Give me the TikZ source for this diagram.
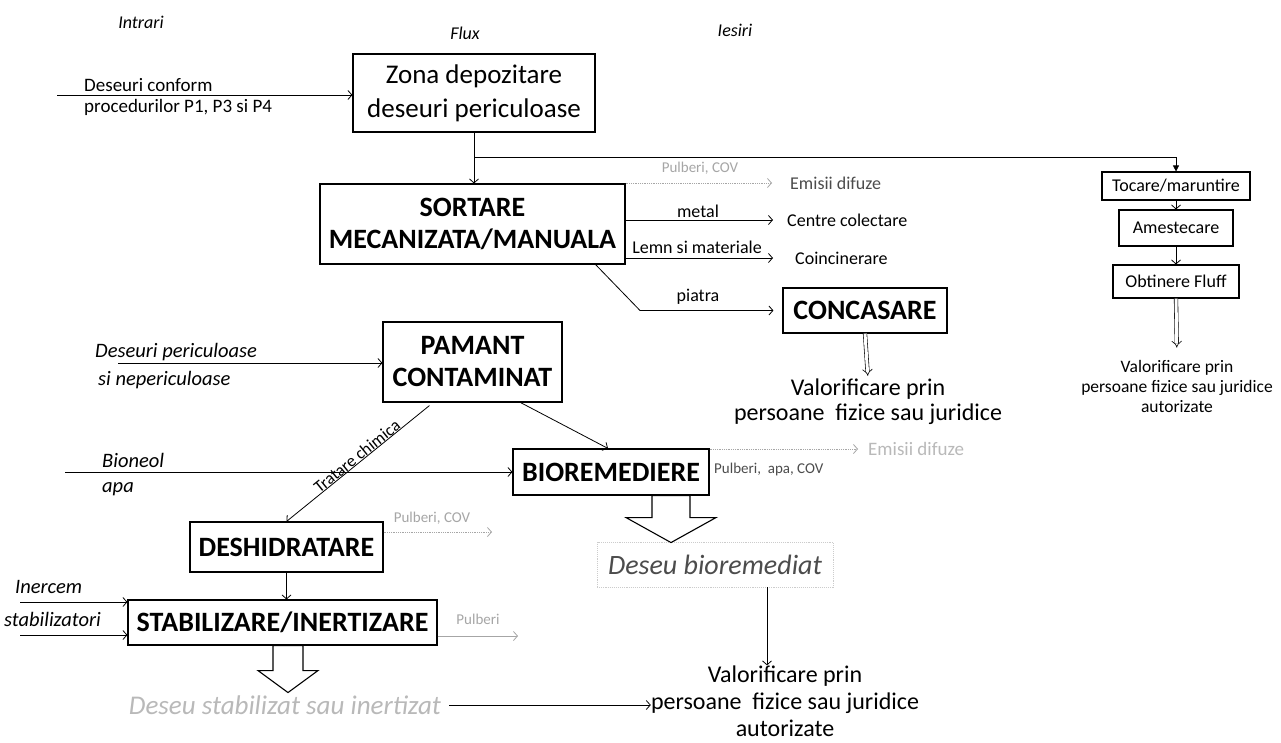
\documentclass[tikz,border=0pt]{standalone}
\usepackage{fontspec}
\setmainfont{Carlito}
\usetikzlibrary{arrows.meta,calc}
\newcommand\fsz[2]{\fontsize{#1}{#2}\selectfont}
\begin{document}
\begin{tikzpicture}[x=1pt,y=-1pt,
 box/.style={draw, line width=1.1pt, inner sep=0pt, align=center, fill=white},
 bbox/.style={box, font=\fsz{28}{32}\bfseries},
 arr/.style={line width=0.8pt, -{Straight Barb[length=4pt,width=9pt]}},
 dotarr/.style={arr, densely dotted, draw=gray!70},
 lbl/.style={inner sep=0pt, font=\fsz{18}{20}},
 lblg/.style={inner sep=0pt, text=gray!70, font=\fsz{15}{18}},
 itl/.style={inner sep=0pt, font=\fsz{20.5}{22}\itshape},
 hdr/.style={inner sep=0pt, font=\fsz{18}{20}\itshape},
 dbl/.style={double, double distance=3pt, line width=0.6pt, -{Implies}},
 hollow/.style={draw, line width=1.1pt, fill=white, line join=miter},
 val/.style={inner sep=0pt, align=center}
]
\fill[white] (0,0) rectangle (1281,742);
\useasboundingbox (0,0) rectangle (1281,742);

% headers
\node[hdr] (hin) at (141,22) {Intrari};
\node[hdr] (hfl) at (465,33) {Flux};
\node[hdr] (hie) at (735,30) {Iesiri};

% boxes
\node[box, minimum width=242pt, minimum height=78pt, font=\fsz{27}{34}] (zona) at (474,93) {Zona depozitare\\deseuri periculoase};
\node[bbox, minimum width=305pt, minimum height=80pt] (sort) at (472.5,224) {SORTARE\\MECANIZATA/MANUALA};
\node[bbox, minimum width=164pt, minimum height=45pt] (conc) at (865,310.5) {CONCASARE};
\node[box, minimum width=148pt, minimum height=28pt, font=\fsz{18}{20}] (toc) at (1176,186) {Tocare/maruntire};
\node[box, minimum width=114pt, minimum height=36pt, font=\fsz{18}{20}] (ame) at (1176,228) {Amestecare};
\node[box, minimum width=126pt, minimum height=33pt, font=\fsz{18}{20}] (obt) at (1176,281.5) {Obtinere Fluff};
\node[bbox, minimum width=179pt, minimum height=80pt] (pam) at (472.5,362) {PAMANT\\CONTAMINAT};
\node[bbox, minimum width=196pt, minimum height=46pt] (bio) at (611,472) {BIOREMEDIERE};
\node[bbox, minimum width=193pt, minimum height=50pt] (desh) at (286.5,547) {DESHIDRATARE};
\node[bbox, minimum width=309pt, minimum height=45pt] (stab) at (282.5,622.5) {STABILIZARE/INERTIZARE};
\node[box, draw=gray!40, densely dotted, line width=0.8pt, minimum width=236pt, minimum height=45pt, font=\fsz{28}{30}\itshape, text=gray!60!black] (db) at (715,564.5) {Deseu bioremediat};

% input 1
\node[lbl, anchor=west, font=\fsz{19}{20}] (l1a) at (84,85) {Deseuri conform};
\node[lbl, anchor=west, font=\fsz{19}{20}] (l1b) at (84,107) {procedurilor P1, P3 si P4};
\coordinate (in1) at (57,95);
\draw[arr] (in1) -- (in1 -| zona.west);

% main flow
\draw[arr] (zona.south) -- (zona.south |- sort.north);
\coordinate (br) at (474,157);
\draw[line width=0.8pt, -{Triangle[length=6pt,width=6pt]}] (br) -| (toc.north);

% sortare outputs
\node[lbl, anchor=west, text=gray!60!black] (em1) at (790,183) {Emisii difuze};
\node[lblg] (pc1) at (700,168) {Pulberi, COV};
\draw[dotarr] (sort.east |- em1.west) -- ([xshift=-18pt]em1.west);
\node[lbl, anchor=west] (cc) at (787,220) {Centre colectare};
\node[lbl] (lm) at (698,211) {metal};
\draw[arr] (sort.east |- cc.west) -- ([xshift=-14pt]cc.west);
\node[lbl, anchor=west] (coin) at (795,258) {Coincinerare};
\node[lbl] (lsm) at (697,247) {Lemn si materiale};
\draw[arr] (sort.east |- coin.west) -- ([xshift=-22pt]coin.west);
\node[lbl] (lp) at (698,297) {piatra};
\coordinate (pk) at (640,310.5);
\draw[arr, shorten >=9pt] ([xshift=-30pt]sort.south east) -- (pk) -- (conc.west);

\node[val, font=\fsz{24}{25}] (v1) at (868,402) {Valorificare prin\\persoane\ \ fizice sau juridice};
\draw[dbl, shorten >=3pt] (conc.south) -- (v1.north);

% right column
\draw[arr] (toc.south) -- (ame.north);
\draw[arr] (ame.south) -- (obt.north);
\node[val, font=\fsz{17.5}{20}] (v2) at (1177,386) {Valorificare prin\\persoane fizice sau juridice\\autorizate};
\draw[dbl, shorten >=12pt] (obt.south) -- (v2.north);

% pamant contaminat
\node[itl, anchor=west] (l2a) at (95,352) {Deseuri periculoase};
\node[itl, anchor=west] (l2b) at (98,380) {si nepericuloase};
\coordinate (in2) at (118,363);
\draw[arr] (in2) -- (in2 -| pam.west);
\draw[arr] ([xshift=47pt, yshift=-3pt]pam.south west) -- node[sloped, pos=0.48, above=-1pt, font=\fsz{17}{18}, inner sep=1pt] {Tratare chimica} (desh.north);
\draw[arr] ([xshift=-42pt]pam.south east) -- ([xshift=-3pt]bio.north);

% bioremediere
\node[itl, anchor=west] (l3a) at (102,460) {Bioneol};
\node[itl, anchor=west] (l3b) at (102,489) {apa};
\coordinate (in3) at (65,472);
\draw[arr] (in3) -- (in3 -| bio.west);
\node[lbl, anchor=west, text=gray!55, font=\fsz{19}{20}] (em2) at (868,449) {Emisii difuze};
\draw[dotarr] (bio.east |- em2.west) -- ([xshift=-10pt]em2.west);
\node[lblg, anchor=west, text=gray!60!black] (pc3) at (714,469) {Pulberi,\ \ apa, COV};
\coordinate (hb) at ([xshift=60pt]bio.south);
\draw[hollow] (hb) ++(-19,0) -- ++(38,0) -- ++(0,22) -- ++(26,0) -- ++(-45,25) -- ++(-45,-25) -- ++(26,0) -- cycle;

\node[val, font=\fsz{24}{27}] (v3) at (785,701) {Valorificare prin\\persoane\ \ fizice sau juridice\\autorizate};
\draw[arr] ([xshift=52pt]db.south) -- ([xshift=52pt]db.south |- v3.north);

% deshidratare
\node[lblg] (pc2) at (432,518) {Pulberi, COV};
\coordinate (d2) at (492,532);
\draw[dotarr] (desh.east |- d2) -- (d2);
\draw[arr] (desh.south) -- (desh.south |- stab.north);

% stabilizare
\node[itl, anchor=west] (l4a) at (15,587) {Inercem};
\node[itl, anchor=west] (l4b) at (4,619) {stabilizatori};
\coordinate (in4) at (20,602);
\coordinate (in5) at (20,635);
\draw[arr] (in4) -- (in4 -| stab.west);
\draw[arr] (in5) -- (in5 -| stab.west);
\node[lblg] (pb) at (478,619) {Pulberi};
\coordinate (p3) at (518,636);
\draw[arr, draw=gray!70] (stab.east |- p3) -- (p3);
\coordinate (hs) at ([xshift=5.5pt]stab.south);
\draw[hollow] (hs) ++(-15,0) -- ++(30,0) -- ++(0,25) -- ++(15,0) -- ++(-30,22) -- ++(-30,-22) -- ++(15,0) -- cycle;
\node[inner sep=0pt, font=\fsz{27}{30}\itshape, text=gray!55] (ds) at (285,705) {Deseu stabilizat sau inertizat};
\draw[arr] ([xshift=8pt]ds.east) -- (ds.east -| v3.west);
\end{tikzpicture}
\end{document}
